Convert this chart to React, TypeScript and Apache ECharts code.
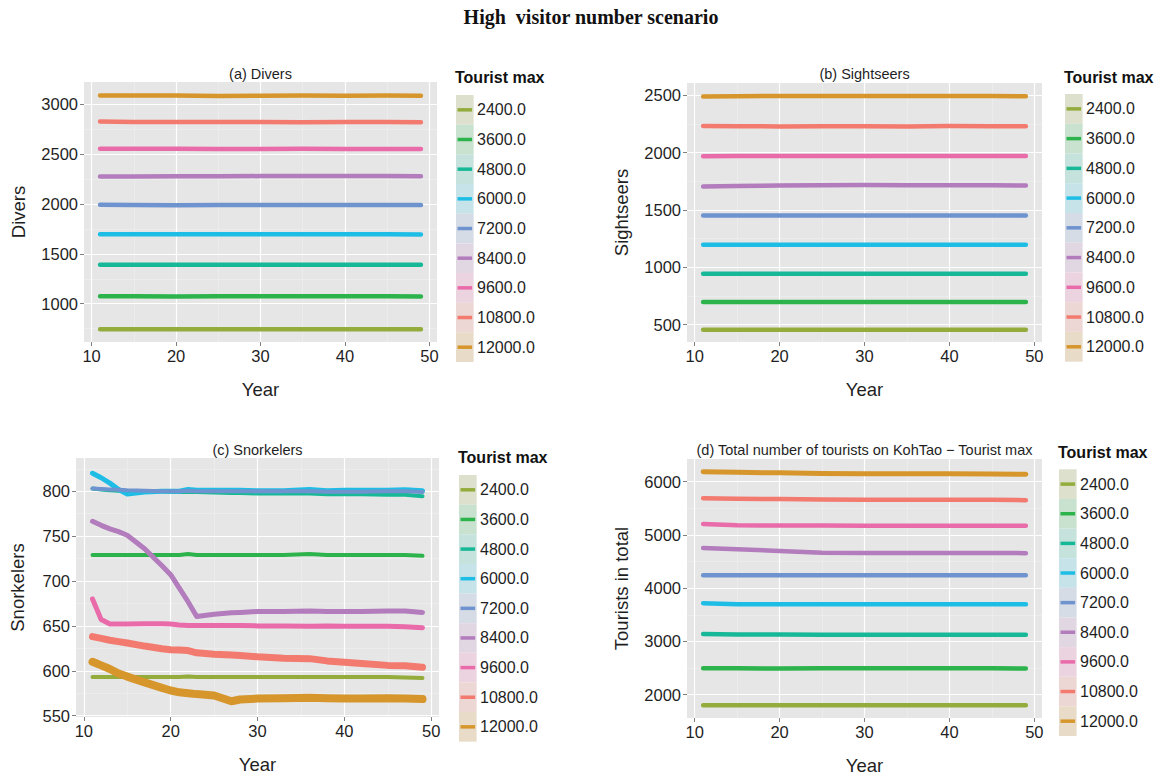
import React, { useEffect, useRef } from 'react';
import * as echarts from 'echarts';

// ---------- categories / colours ----------
const categories = ['2400.0', '3600.0', '4800.0', '6000.0', '7200.0', '8400.0', '9600.0', '10800.0', '12000.0'];
const colors = ['#93AC3C', '#2DB34B', '#17B897', '#1DBDE6', '#6E93CF', '#B27CBD', '#E96BAA', '#F37A6F', '#D6962C'];

// ---------- x values ----------
const years = [11, 15, 20, 25, 30, 35, 40, 45, 49];
const yearsSnork = [11, 12, 13, 14, 15, 17, 19, 20, 21, 22, 23, 25, 27, 28, 30, 33, 36, 38, 40, 42, 45, 47, 49];
const xTicks = [10, 20, 30, 40, 50];
const xMinor = [15, 25, 35, 45];

// ---------- (a) Divers ----------
const divers2400 = [743, 743, 744, 743, 743, 744, 743, 743, 743];
const divers3600 = [1074, 1074, 1073, 1074, 1074, 1074, 1074, 1074, 1073];
const divers4800 = [1391, 1390, 1391, 1391, 1390, 1391, 1391, 1390, 1390];
const divers6000 = [1697, 1696, 1696, 1696, 1697, 1696, 1696, 1696, 1695];
const divers7200 = [1992, 1990, 1988, 1990, 1990, 1990, 1990, 1990, 1989];
const divers8400 = [2276, 2277, 2278, 2279, 2280, 2281, 2280, 2280, 2279];
const divers9600 = [2554, 2555, 2554, 2553, 2553, 2554, 2553, 2553, 2552];
const divers10800 = [2828, 2823, 2822, 2822, 2822, 2821, 2822, 2822, 2821];
const divers12000 = [3088, 3089, 3088, 3084, 3086, 3088, 3087, 3088, 3086];

// ---------- (b) Sightseers ----------
const sight2400 = [455, 455, 455, 455, 455, 455, 455, 455, 455];
const sight3600 = [696, 696, 696, 696, 696, 696, 696, 696, 696];
const sight4800 = [943, 943, 943, 943, 943, 943, 943, 943, 943];
const sight6000 = [1196, 1196, 1196, 1196, 1196, 1196, 1196, 1196, 1196];
const sight7200 = [1451, 1451, 1451, 1451, 1451, 1451, 1451, 1451, 1451];
const sight8400 = [1705, 1708, 1712, 1716, 1717, 1716, 1715, 1716, 1713];
const sight9600 = [1968, 1970, 1970, 1970, 1970, 1970, 1970, 1970, 1970];
const sight10800 = [2232, 2230, 2228, 2229, 2230, 2228, 2231, 2230, 2229];
const sight12000 = [2490, 2491, 2494, 2493, 2494, 2493, 2493, 2494, 2491];

// ---------- (c) Snorkelers ----------
const snork2400 = [593, 593, 593, 593, 593, 593, 593, 593, 593, 593.5, 593, 593, 593, 593, 593, 593, 593, 593, 593, 593, 593, 592.5, 592];
const snork3600 = [729, 729, 729, 729, 729, 729, 729, 729, 729, 730, 729, 729, 729, 729, 729, 729, 730, 729, 729, 729, 729, 729, 728];
const snork4800 = [803, 802, 801, 800.5, 800, 800, 800, 799.5, 799, 799.5, 799, 798.5, 798, 798, 797.5, 797.5, 797.5, 796.5, 796.5, 796.5, 796, 796, 794.5];
const snork6000 = [820, 815, 809, 802, 797, 799, 800, 800, 800, 802, 801, 801, 801, 801, 800.5, 800.5, 802, 800.5, 801, 801, 801, 801.5, 800.5];
const snork7200 = [803, 802.5, 802, 801.5, 801, 800.5, 800, 800, 800, 800.5, 800, 800, 800, 800, 800, 800, 800, 799.5, 799.5, 799.5, 800, 800, 799];
const snork8400 = [766.5, 762, 758, 755, 751, 736, 717, 707, 692, 677, 660.5, 663, 664.5, 665, 666, 666, 666.5, 666, 666, 666, 666.5, 666.5, 665];
const snork9600 = [680, 657, 652, 652, 652, 652.5, 652.5, 652, 651, 650.5, 650.5, 650.5, 650.5, 650.5, 650, 650, 649.5, 650, 649.5, 649.5, 649.5, 649, 648];
const snork10800 = [638, 636, 634, 632.5, 631, 627.5, 624.5, 623.5, 623, 622.5, 620, 618.5, 617.5, 617, 615.5, 614, 613.5, 611, 609.5, 608, 606, 605.5, 604];
const snork12000 = [610, 606, 602, 597, 593.5, 587, 581, 578, 576, 575, 574, 572.5, 566, 568, 569, 569.5, 570, 569.5, 569, 569, 569.5, 569, 568.5];

// ---------- (d) Total tourists ----------
const total2400 = [1802, 1802, 1801, 1802, 1802, 1802, 1802, 1802, 1801];
const total3600 = [2495, 2495, 2494, 2495, 2495, 2495, 2495, 2495, 2494];
const total4800 = [3140, 3132, 3130, 3128, 3128, 3128, 3128, 3128, 3126];
const total6000 = [3718, 3700, 3700, 3698, 3698, 3698, 3698, 3698, 3696];
const total7200 = [4245, 4245, 4244, 4245, 4245, 4245, 4245, 4245, 4244];
const total8400 = [4752, 4730, 4700, 4665, 4660, 4662, 4660, 4662, 4658];
const total9600 = [5205, 5180, 5178, 5175, 5172, 5172, 5170, 5172, 5170];
const total10800 = [5690, 5680, 5672, 5665, 5662, 5660, 5660, 5658, 5652];
const total12000 = [6185, 6175, 6165, 6155, 6150, 6150, 6148, 6145, 6138];

// ---------- panels (layout) ----------
const FONT = '"Liberation Sans", Arial, sans-serif';
const LABEL = '#1f1f1f';

const panels = [
  {
    title: '(a) Divers', yName: 'Divers', xs: years,
    series: [divers2400, divers3600, divers4800, divers6000, divers7200, divers8400, divers9600, divers10800, divers12000],
    widths: [4.5, 4.5, 4.5, 4.5, 4.5, 4.5, 4.5, 4.5, 4.5],
    grid: { left: 84, top: 82, width: 353, height: 260 },
    yMin: 616, yMax: 3224, yTicks: [1000, 1500, 2000, 2500, 3000], yMinor: [750, 1250, 1750, 2250, 2750],
    yNameGap: 56, titleY: 74, legend: { x: 456, top: 95, keyH: 29.67, titleY: 77 },
  },
  {
    title: '(b) Sightseers', yName: 'Sightseers', xs: years,
    series: [sight2400, sight3600, sight4800, sight6000, sight7200, sight8400, sight9600, sight10800, sight12000],
    widths: [4.5, 4.5, 4.5, 4.5, 4.5, 4.5, 4.5, 4.5, 4.5],
    grid: { left: 687, top: 83, width: 355, height: 259 },
    yMin: 348, yMax: 2607, yTicks: [500, 1000, 1500, 2000, 2500], yMinor: [750, 1250, 1750, 2250],
    yNameGap: 56, titleY: 74, legend: { x: 1065, top: 94, keyH: 29.74, titleY: 77 },
  },
  {
    title: '(c) Snorkelers', yName: 'Snorkelers', xs: yearsSnork,
    series: [snork2400, snork3600, snork4800, snork6000, snork7200, snork8400, snork9600, snork10800, snork12000],
    widths: [4, 4, 4, 5, 4, 5, 5, 7, 8],
    grid: { left: 76, top: 458, width: 363, height: 259 },
    yMin: 548.5, yMax: 837, yTicks: [550, 600, 650, 700, 750, 800], yMinor: [575, 625, 675, 725, 775, 825],
    yNameGap: 49, titleY: 450, legend: { x: 459, top: 475, keyH: 29.63, titleY: 457 },
  },
  {
    title: '(d) Total number of tourists on KohTao \u2212 Tourist max', yName: 'Tourists in total', xs: years,
    series: [total2400, total3600, total4800, total6000, total7200, total8400, total9600, total10800, total12000],
    widths: [4.5, 4.5, 4.5, 4.5, 4.5, 4.5, 4.5, 4.5, 5],
    grid: { left: 687, top: 459, width: 355, height: 259 },
    yMin: 1563, yMax: 6425, yTicks: [2000, 3000, 4000, 5000, 6000], yMinor: [2500, 3500, 4500, 5500],
    yNameGap: 56, titleY: 450, legend: { x: 1059, top: 469.3, keyH: 29.63, titleY: 452 },
  },
];

const plain = (v: number) => String(v);

function buildOption() {
  const grid: any[] = [];
  const xAxis: any[] = [];
  const yAxis: any[] = [];
  const series: any[] = [];
  const graphic: any[] = [];

  graphic.push({
    type: 'text', x: 591, y: 17, silent: true,
    style: {
      text: 'High  visitor number scenario', fill: '#111',
      font: 'bold 20px "Liberation Serif", "DejaVu Serif", serif',
      textAlign: 'center', textVerticalAlign: 'middle',
    },
  });

  panels.forEach((p, i) => {
    grid.push({ ...p.grid, show: true, backgroundColor: '#E6E6E6', borderWidth: 0 });
    xAxis.push({
      type: 'value', gridIndex: i, min: 9.1, max: 50.9,
      axisLine: { show: false },
      axisTick: { show: true, length: 4, lineStyle: { color: '#7F7F7F' }, customValues: xTicks },
      axisLabel: { customValues: xTicks, formatter: plain, color: LABEL, fontSize: 16.5, margin: 5, fontFamily: FONT },
      splitLine: { show: false },
      name: 'Year', nameLocation: 'middle', nameGap: 38,
      nameTextStyle: { fontSize: 18.5, color: LABEL, fontFamily: FONT },
    });
    yAxis.push({
      type: 'value', gridIndex: i, min: p.yMin, max: p.yMax,
      axisLine: { show: false },
      axisTick: { show: true, length: 4, lineStyle: { color: '#7F7F7F' }, customValues: p.yTicks },
      axisLabel: { customValues: p.yTicks, formatter: plain, color: LABEL, fontSize: 16.5, margin: 6, fontFamily: FONT },
      splitLine: { show: false },
      name: p.yName, nameLocation: 'middle', nameGap: p.yNameGap,
      nameTextStyle: { fontSize: 18.5, color: LABEL, fontFamily: FONT },
    });

    const gridLines: any[] = [];
    p.yMinor.forEach((v) => gridLines.push({ yAxis: v, lineStyle: { color: '#F0F0F0', width: 0.6, type: 'solid' } }));
    xMinor.forEach((v) => gridLines.push({ xAxis: v, lineStyle: { color: '#F0F0F0', width: 0.6, type: 'solid' } }));
    p.yTicks.forEach((v) => gridLines.push({ yAxis: v, lineStyle: { color: '#FFFFFF', width: 1.2, type: 'solid' } }));
    xTicks.forEach((v) => gridLines.push({ xAxis: v, lineStyle: { color: '#FFFFFF', width: 1.2, type: 'solid' } }));

    p.series.forEach((vals, k) => {
      const s: any = {
        type: 'line', name: categories[k], xAxisIndex: i, yAxisIndex: i,
        data: p.xs.map((x, j) => [x, vals[j]]),
        showSymbol: false, symbol: 'none', silent: true, z: 3,
        lineStyle: { color: colors[k], width: p.widths[k], cap: 'round', join: 'round' },
        itemStyle: { color: colors[k] },
      };
      if (k === 0) {
        s.markLine = {
          silent: true, symbol: ['none', 'none'], label: { show: false }, z: 1, animation: false,
          data: gridLines,
        };
      }
      series.push(s);
    });

    // panel title
    graphic.push({
      type: 'text', x: p.grid.left + p.grid.width / 2, y: p.titleY, silent: true,
      style: { text: p.title, fill: LABEL, font: `14.5px ${FONT}`, textAlign: 'center', textVerticalAlign: 'middle' },
    });

    // legend
    const L = p.legend;
    graphic.push({
      type: 'text', x: L.x - 1, y: L.titleY, silent: true,
      style: { text: 'Tourist max', fill: '#111', font: `bold 16px ${FONT}`, textAlign: 'left', textVerticalAlign: 'middle' },
    });
    categories.forEach((c, k) => {
      const top = L.top + k * L.keyH;
      const cy = top + L.keyH / 2;
      graphic.push({ type: 'rect', silent: true, shape: { x: L.x, y: top, width: 17.6, height: L.keyH }, style: { fill: '#ECECEC' } });
      graphic.push({ type: 'rect', silent: true, shape: { x: L.x, y: top, width: 17.6, height: L.keyH }, style: { fill: colors[k], opacity: 0.18 } });
      graphic.push({ type: 'line', silent: true, shape: { x1: L.x + 1.5, y1: cy, x2: L.x + 16.1, y2: cy }, style: { stroke: colors[k], lineWidth: 3.5 } });
      graphic.push({
        type: 'text', x: L.x + 21, y: cy, silent: true,
        style: { text: c, fill: LABEL, font: `16px ${FONT}`, textAlign: 'left', textVerticalAlign: 'middle' },
      });
    });
  });

  return {
    animation: false,
    backgroundColor: '#FFFFFF',
    textStyle: { fontFamily: FONT },
    grid, xAxis, yAxis, series, graphic,
  };
}

export default function App() {
  const ref = useRef<HTMLDivElement>(null);
  useEffect(() => {
    if (!ref.current) return;
    const chart = echarts.init(ref.current, undefined, { renderer: 'svg' });
    chart.setOption(buildOption());
    return () => chart.dispose();
  }, []);
  return (
    <div
      ref={ref}
      style={{ position: 'absolute', left: 0, top: 0, width: 1162, height: 776, background: '#fff' }}
    />
  );
}
